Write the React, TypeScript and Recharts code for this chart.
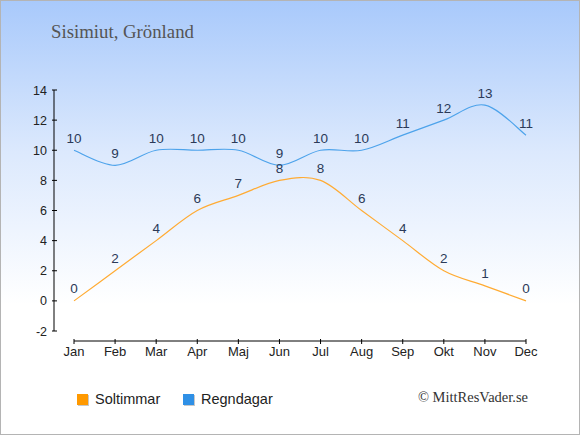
import React from "react";
import { LineChart, Line, XAxis, YAxis } from "recharts";

document.body.style.margin = "0";

const months = ["Jan", "Feb", "Mar", "Apr", "Maj", "Jun", "Jul", "Aug", "Sep", "Okt", "Nov", "Dec"];
const soltimmar = [0, 2, 4, 6, 7, 8, 8, 6, 4, 2, 1, 0];
const regndagar = [10, 9, 10, 10, 10, 9, 10, 10, 11, 12, 13, 11];
const yTicks = [-2, 0, 2, 4, 6, 8, 10, 12, 14];

const data = months.map((month, i) => ({
  month,
  sol: soltimmar[i],
  regn: regndagar[i],
}));

const W = 580;
const H = 435;
const MARGIN = { top: 90, right: 34, bottom: 74, left: 0 };
const Y_AXIS_W = 54;
const X_PAD = 20;
const X_SPAN = W - MARGIN.left - MARGIN.right - Y_AXIS_W - 2 * X_PAD;

const SANS = "'Liberation Sans', Arial, sans-serif";
const SERIF = "'Liberation Serif', 'Times New Roman', serif";
const LABEL_COLOR = "#2b3a58";

// uniform Catmull-Rom spline, like the smooth lines in the original
const catmullRom = (context: any) => {
  let pts: number[][] = [];
  return {
    areaStart() {},
    areaEnd() {},
    lineStart() {
      pts = [];
    },
    lineEnd() {
      const n = pts.length;
      if (!n) return;
      context.moveTo(pts[0][0], pts[0][1]);
      for (let i = 0; i < n - 1; i++) {
        const p0 = pts[Math.max(i - 1, 0)];
        const p1 = pts[i];
        const p2 = pts[i + 1];
        const p3 = pts[Math.min(i + 2, n - 1)];
        context.bezierCurveTo(
          p1[0] + (p2[0] - p0[0]) / 6,
          p1[1] + (p2[1] - p0[1]) / 6,
          p2[0] - (p3[0] - p1[0]) / 6,
          p2[1] - (p3[1] - p1[1]) / 6,
          p2[0],
          p2[1]
        );
      }
    },
    point(x: number, y: number) {
      pts.push([+x, +y]);
    },
  };
};

const XTick = (props: any) => {
  const { x, y, payload, index } = props;
  return (
    <g>
      {index === 0 && (
        <line x1={x} y1={y + 10} x2={x + X_SPAN} y2={y + 10} stroke="#000" strokeWidth={1} />
      )}
      <line x1={x} y1={y + 8} x2={x} y2={y + 13} stroke="#000" strokeWidth={1} />
      <text x={x} y={y + 25} textAnchor="middle" fontSize={13} fontFamily={SANS} fill="#222">
        {payload.value}
      </text>
    </g>
  );
};

const YTick = (props: any) => {
  const { x, y, payload } = props;
  return (
    <g>
      <line x1={x - 2} y1={y} x2={x + 3} y2={y} stroke="#000" strokeWidth={1} />
      <text x={x - 7} y={y + 4.5} textAnchor="end" fontSize={12.5} fontFamily={SANS} fill="#222">
        {payload.value}
      </text>
    </g>
  );
};

const legendItems = [
  { name: "Soltimmar", color: "#ff9900", x: 77 },
  { name: "Regndagar", color: "#2f90e6", x: 183 },
];

export default function App() {
  return (
    <div
      style={{
        position: "relative",
        width: W,
        height: H,
        background: "linear-gradient(to bottom, #a8c9fb 0%, #dce9fd 35%, #ffffff 70%)",
        boxShadow: "inset 0 0 0 1px #b4b4b4",
        overflow: "hidden",
      }}
    >
      <LineChart width={W} height={H} data={data} margin={MARGIN}>
        <XAxis
          dataKey="month"
          interval={0}
          padding={{ left: X_PAD, right: X_PAD }}
          axisLine={false}
          tickLine={false}
          tickSize={0}
          tickMargin={0}
          height={30}
          tick={<XTick />}
        />
        <YAxis
          domain={[-2, 14]}
          ticks={yTicks}
          interval={0}
          width={Y_AXIS_W}
          axisLine={{ stroke: "#000", strokeWidth: 1 }}
          tickLine={false}
          tickSize={0}
          tickMargin={0}
          tick={<YTick />}
        />
        <Line
          dataKey="regn"
          type={catmullRom as any}
          stroke="#4da3eb"
          strokeWidth={1.2}
          dot={false}
          isAnimationActive={false}
          label={{ position: "top", offset: 7.5, fill: LABEL_COLOR, fontSize: 13.5, fontFamily: SANS }}
        />
        <Line
          dataKey="sol"
          type={catmullRom as any}
          stroke="#ffab33"
          strokeWidth={1.2}
          dot={false}
          isAnimationActive={false}
          label={{ position: "top", offset: 7.5, fill: LABEL_COLOR, fontSize: 13.5, fontFamily: SANS }}
        />
      </LineChart>
      <svg width={W} height={H} style={{ position: "absolute", left: 0, top: 0, pointerEvents: "none" }}>
        <text x={51} y={38} fontSize={18.8} fontFamily={SERIF} fill="#555">
          Sisimiut, Grönland
        </text>
        {legendItems.map((item) => (
          <g key={item.name}>
            <rect x={item.x + 1} y={394 + 1} width={11} height={11} fill="#c8c8c8" />
            <rect x={item.x} y={394} width={11} height={11} fill={item.color} />
            <text x={item.x + 18} y={403.5} fontSize={14.5} fontFamily={SANS} fill="#222">
              {item.name}
            </text>
          </g>
        ))}
        <text x={528} y={402} textAnchor="end" fontSize={14.5} fontFamily={SERIF} fill="#333">
          © MittResVader.se
        </text>
      </svg>
    </div>
  );
}
